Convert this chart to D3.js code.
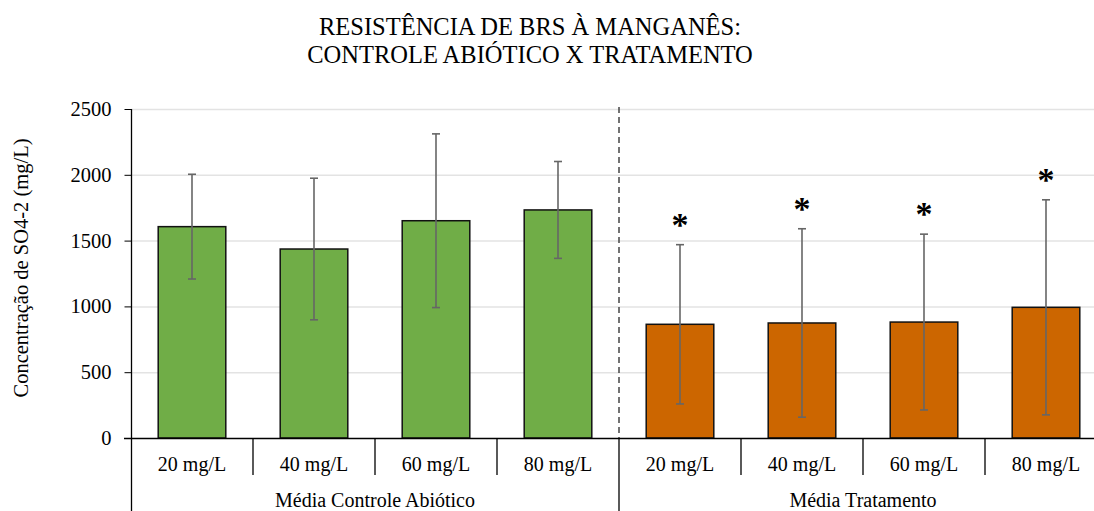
<!DOCTYPE html>
<html>
<head>
<meta charset="utf-8">
<script src="https://cdn.jsdelivr.net/npm/d3@7"></script>
<style>
  body { margin:0; background:#fff; }
  svg text { font-family: "Liberation Serif", "Times New Roman", serif; fill:#000; }
</style>
</head>
<body>
<svg id="chart" width="1094" height="511"></svg>
<script>
// data
var doses = ["20 mg/L","40 mg/L","60 mg/L","80 mg/L"];
var groups = ["Média Controle Abiótico","Média Tratamento"];
var controleMedia = [1606,1436,1651,1733];
var controleDesvio = [398,538,660,368];
var tratamentoMedia = [864,874,881,993];
var tratamentoDesvio = [605,716,668,817];
var tratamentoSignif = [true,true,true,true];
var yTicks = [0,500,1000,1500,2000,2500];
var groupColors = ["#70ad47","#cc6600"];

var rows = [];
doses.forEach(function(d,i){ rows.push({g:0, dose:d, key:"c"+i, v:controleMedia[i], sd:controleDesvio[i], star:false}); });
doses.forEach(function(d,i){ rows.push({g:1, dose:d, key:"t"+i, v:tratamentoMedia[i], sd:tratamentoDesvio[i], star:tratamentoSignif[i]}); });

var svg = d3.select("#chart");
var pLeft = 131, pRight = 1107, pTop = 109, pBottom = 438;

var x = d3.scaleBand().domain(rows.map(function(r){return r.key;})).range([pLeft,pRight]).paddingInner(0.446).paddingOuter(0.223);
var step = x.step();
var y = d3.scaleLinear().domain([0,2500]).range([pBottom,pTop]);

// title
var title = svg.append("text").attr("text-anchor","middle").style("font-size","24.5px");
title.append("tspan").attr("x",530).attr("y",35).text("RESISTÊNCIA DE BRS À MANGANÊS:");
title.append("tspan").attr("x",530).attr("y",63).text("CONTROLE ABIÓTICO X TRATAMENTO");

// gridlines
svg.append("g").selectAll("line").data(yTicks.filter(function(t){return t>0;})).enter().append("line")
  .attr("x1",pLeft).attr("x2",pRight).attr("y1",function(d){return y(d)+0.5;}).attr("y2",function(d){return y(d)+0.5;})
  .attr("stroke","#e3e3e3").attr("stroke-width",1.5);

// y axis
var yAxis = svg.append("g").attr("transform","translate("+(pLeft+0.5)+",0)")
  .call(d3.axisLeft(y).tickValues(yTicks).tickFormat(d3.format("d")).tickSize(7).tickPadding(13));
yAxis.select(".domain").remove();
yAxis.selectAll(".tick line").attr("stroke","#000");
yAxis.selectAll(".tick text").style("font-size","20.5px").style("font-family","Liberation Serif");
svg.append("line").attr("x1",pLeft+0.5).attr("x2",pLeft+0.5).attr("y1",pTop).attr("y2",511).attr("stroke","#000").attr("stroke-width",1.3);

svg.append("text").attr("transform","translate(28,268) rotate(-90)").attr("text-anchor","middle")
  .style("font-size","20.5px").text("Concentração de SO4-2 (mg/L)");

// separator between groups
var sepX = pLeft + step*4;
svg.append("line").attr("x1",sepX).attr("x2",sepX).attr("y1",pTop-2).attr("y2",pBottom)
  .attr("stroke","#444").attr("stroke-width",1.5).attr("stroke-dasharray","6,4");

// bars
svg.append("g").selectAll("rect").data(rows).enter().append("rect")
  .attr("x",function(r){return x(r.key);}).attr("width",x.bandwidth())
  .attr("y",function(r){return y(r.v);}).attr("height",function(r){return pBottom-y(r.v);})
  .attr("fill",function(r){return groupColors[r.g];}).attr("stroke","#111").attr("stroke-width",1.5);

// error bars
var eb = svg.append("g").selectAll("g").data(rows).enter().append("g")
  .attr("stroke","#666").attr("stroke-width",1.6);
eb.append("line").attr("x1",function(r){return x(r.key)+x.bandwidth()/2;}).attr("x2",function(r){return x(r.key)+x.bandwidth()/2;})
  .attr("y1",function(r){return y(r.v+r.sd);}).attr("y2",function(r){return y(r.v-r.sd);});
eb.append("line").attr("x1",function(r){return x(r.key)+x.bandwidth()/2-4;}).attr("x2",function(r){return x(r.key)+x.bandwidth()/2+4;})
  .attr("y1",function(r){return y(r.v+r.sd);}).attr("y2",function(r){return y(r.v+r.sd);});
eb.append("line").attr("x1",function(r){return x(r.key)+x.bandwidth()/2-4;}).attr("x2",function(r){return x(r.key)+x.bandwidth()/2+4;})
  .attr("y1",function(r){return y(r.v-r.sd);}).attr("y2",function(r){return y(r.v-r.sd);});

// significance stars
svg.append("g").selectAll("text").data(rows.filter(function(r){return r.star;})).enter().append("text")
  .attr("x",function(r){return x(r.key)+x.bandwidth()/2;}).attr("y",function(r){return y(r.v+r.sd)-9;})
  .attr("text-anchor","middle").style("font-size","34px").style("font-weight","bold").text("*");

// x axis
svg.append("line").attr("x1",124).attr("x2",pRight).attr("y1",pBottom+0.5).attr("y2",pBottom+0.5).attr("stroke","#000").attr("stroke-width",1.3);
svg.append("g").selectAll("line").data(d3.range(1,8)).enter().append("line")
  .attr("x1",function(i){return pLeft+step*i;}).attr("x2",function(i){return pLeft+step*i;})
  .attr("y1",pBottom).attr("y2",function(i){return i===4 ? 511 : 475;})
  .attr("stroke","#000").attr("stroke-width",1.3);

svg.append("g").selectAll("text").data(rows).enter().append("text")
  .attr("x",function(r){return x(r.key)+x.bandwidth()/2;}).attr("y",471)
  .attr("text-anchor","middle").style("font-size","20px").text(function(r){return r.dose;});

svg.append("g").selectAll("text").data(groups).enter().append("text")
  .attr("x",function(g,i){return pLeft+step*4*i+step*2;}).attr("y",507)
  .attr("text-anchor","middle").style("font-size","20px").text(function(g){return g;});
</script>
</body>
</html>
